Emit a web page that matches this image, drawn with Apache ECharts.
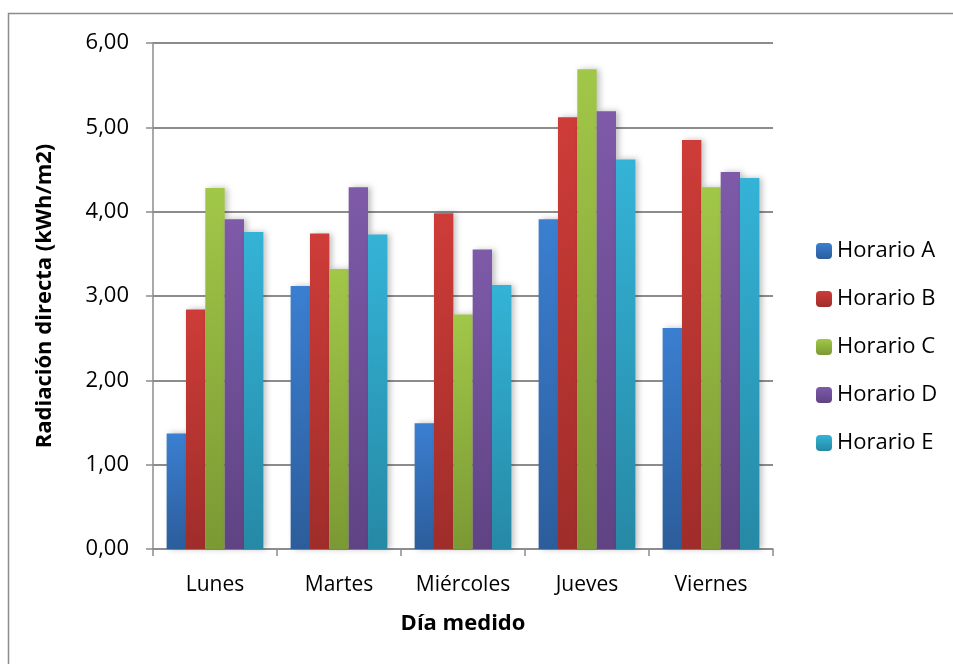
<!DOCTYPE html>
<html>
<head>
<meta charset="utf-8">
<script src="https://cdn.jsdelivr.net/npm/echarts@6/dist/echarts.min.js"></script>
<style>
  html, body { margin: 0; padding: 0; background: #fff; }
  #chart { width: 953px; height: 664px; }
</style>
</head>
<body>
<div id="chart"></div>
<script>
// 数据
const dias = ['Lunes', 'Martes', 'Miércoles', 'Jueves', 'Viernes']
const horarioA = [1.37, 3.12, 1.49, 3.91, 2.62]
const horarioB = [2.84, 3.74, 3.98, 5.12, 4.85]
const horarioC = [4.28, 3.32, 2.78, 5.69, 4.29]
const horarioD = [3.91, 4.29, 3.55, 5.19, 4.47]
const horarioE = [3.76, 3.73, 3.13, 4.62, 4.40]
const nombres = ['Horario A', 'Horario B', 'Horario C', 'Horario D', 'Horario E']

const chart = echarts.init(document.getElementById('chart'))
const fuente = '"Open Sans", Lato, sans-serif'
const gris = '#8c8c8c'

// 颜色渐变 (arriba claro, abajo oscuro)
function grad(top, bottom) {
  return new echarts.graphic.LinearGradient(0, 0, 0, 1, [
    { offset: 0, color: top },
    { offset: 1, color: bottom }
  ])
}
const colores = [
  grad('#3b7fd1', '#2c5d9b'),
  grad('#ce3c38', '#9f2d2a'),
  grad('#a1c748', '#7b9934'),
  grad('#7e5aa9', '#5f4383'),
  grad('#34b3d7', '#2689a5')
]
const valores = [horarioA, horarioB, horarioC, horarioD, horarioE]

chart.setOption({
  animation: false,
  textStyle: { fontFamily: fuente },
  graphic: [{
    type: 'rect',
    shape: { x: 8.5, y: 13.5, width: 1000, height: 700 },
    style: { fill: 'none', stroke: '#8c8c8c', lineWidth: 1.5 },
    silent: true
  }],
  grid: { left: 153, right: 180, top: 43, bottom: 115 },
  legend: {
    orient: 'vertical',
    left: 811,
    top: 235,
    itemWidth: 16,
    itemHeight: 16,
    itemGap: 26,
    data: nombres,
    textStyle: { fontSize: 22, color: '#000', fontFamily: fuente }
  },
  xAxis: {
    type: 'category',
    data: dias,
    name: 'Día medido',
    nameLocation: 'middle',
    nameGap: 64,
    nameTextStyle: { fontSize: 22, fontWeight: 'bold', color: '#000', fontFamily: fuente },
    axisLine: { lineStyle: { color: gris, width: 1.5 } },
    axisTick: { show: true, length: 7, lineStyle: { color: gris, width: 1.5 } },
    axisLabel: { fontSize: 21, color: '#000', margin: 26, fontFamily: fuente }
  },
  yAxis: {
    type: 'value',
    min: 0,
    max: 6,
    interval: 1,
    name: 'Radiación directa (kWh/m2)',
    nameLocation: 'middle',
    nameGap: 97,
    nameTextStyle: { fontSize: 22, fontWeight: 'bold', color: '#000', fontFamily: fuente },
    axisLine: { show: true, lineStyle: { color: gris, width: 1.5 } },
    axisTick: { show: true, length: 7, lineStyle: { color: gris, width: 1.5 } },
    axisLabel: {
      fontSize: 22, color: '#000', margin: 24, fontFamily: fuente,
      formatter: v => v.toFixed(2).replace('.', ',')
    },
    splitLine: { lineStyle: { color: gris, width: 1.8 } }
  },
  series: nombres.map((n, i) => ({
    name: n,
    type: 'bar',
    data: valores[i],
    barGap: '0%',
    barCategoryGap: '22%',
    itemStyle: {
      color: colores[i],
      shadowColor: 'rgba(0,0,0,0.25)',
      shadowBlur: 6,
      shadowOffsetX: 3
    }
  }))
})
</script>
</body>
</html>
